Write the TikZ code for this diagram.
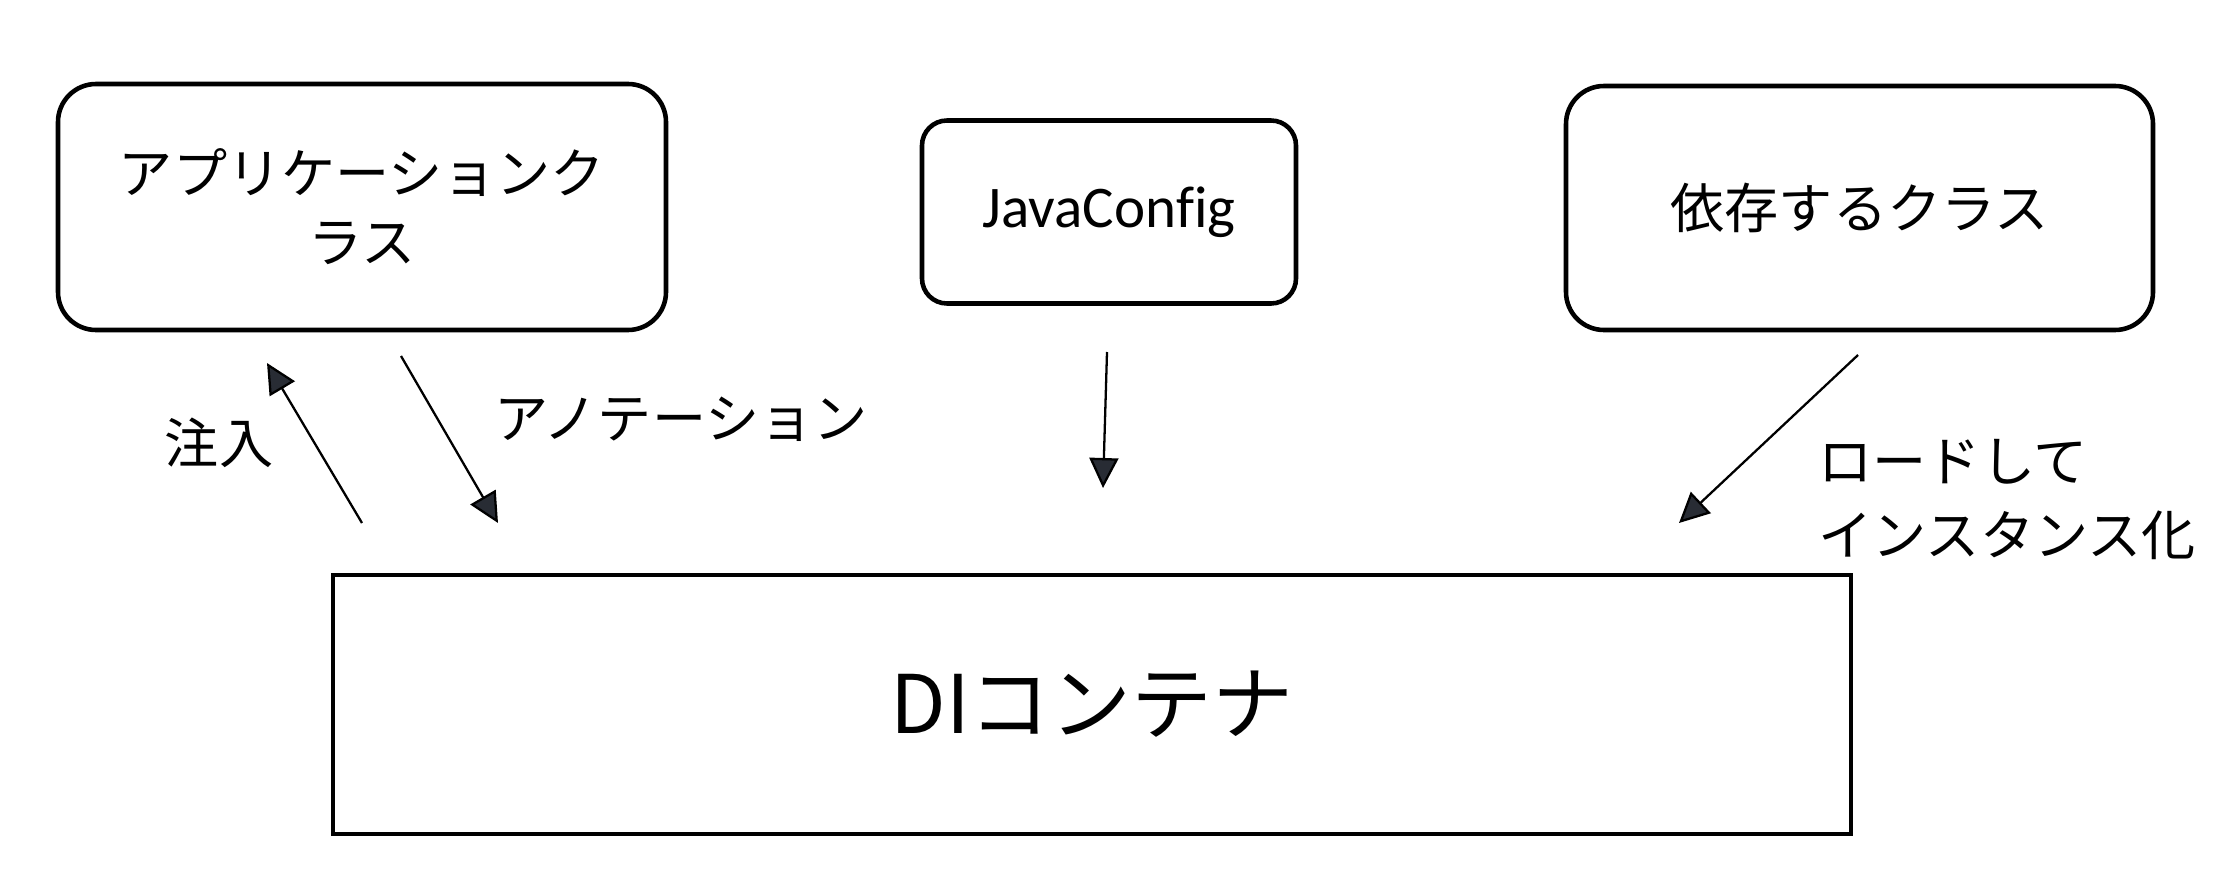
\documentclass[tikz,border=0pt]{standalone}
\usepackage{fontspec}
\newfontfamily\jpfont{Noto Sans CJK JP}
\newfontfamily\latinfont[Ligatures=NoCommon]{Carlito}
\usetikzlibrary{arrows.meta}
\definecolor{headcol}{RGB}{40,44,52}
\begin{document}
\begin{tikzpicture}[
  rbox/.style={draw=black, line width=1.3pt, rounded corners=#1, inner sep=0pt, align=center},
  rbox/.default=0.38cm,
  bigbox/.style={draw=black, line width=1.4pt, inner sep=0pt},
  boxtext/.style={font=\jpfont\fontsize{15.4}{19.6}\selectfont},
  lbl/.style={font=\jpfont\fontsize{15.4}{21.3}\selectfont, inner sep=0pt},
  conn/.style={draw=black, line width=0.65pt, -{Triangle[length=0.3cm,width=0.29cm,fill=headcol]}}
]
\useasboundingbox (0,0) rectangle (22.14,8.68);

% boxes
\node[rbox, boxtext, minimum width=6.08cm, minimum height=2.46cm] (app) at (3.62,6.61)
  {アプリケーションク\\ラス};
\node[rbox=0.25cm, minimum width=3.74cm, minimum height=1.83cm,
      font=\latinfont\fontsize{16.8}{20}\selectfont] (jc) at (11.09,6.56)
  {JavaConfig};
\node[rbox, boxtext, minimum width=5.87cm, minimum height=2.44cm] (dep) at (18.595,6.60)
  {依存するクラス};
\node[bigbox, minimum width=15.18cm, minimum height=2.59cm,
      font=\jpfont\fontsize{23}{28}\selectfont] (di) at (10.92,1.635)
  {DIコンテナ};

% connector end points
\coordinate (injS) at (3.62,3.45);
\coordinate (injE) at (2.67,5.05);
\coordinate (annS) at (4.01,5.12);
\coordinate (annE) at (4.98,3.45);
\coordinate (jcS)  at (11.07,5.16);
\coordinate (jcE)  at (11.03,3.80);
\coordinate (depS) at (18.58,5.13);
\coordinate (depE) at (16.79,3.45);

\draw[conn] (injS) -- (injE);
\draw[conn] (annS) -- (annE);
\draw[conn] (jcS) -- (jcE);
\draw[conn] (depS) -- (depE);

% labels
\node[lbl] (linj) at (2.19,4.25) {注入};
\node[lbl] (lann) at (6.81,4.49) {アノテーション};
\node[lbl, align=left, anchor=west] (ldep) at (18.18,3.685) {ロードして\\インスタンス化};
\end{tikzpicture}
\end{document}
